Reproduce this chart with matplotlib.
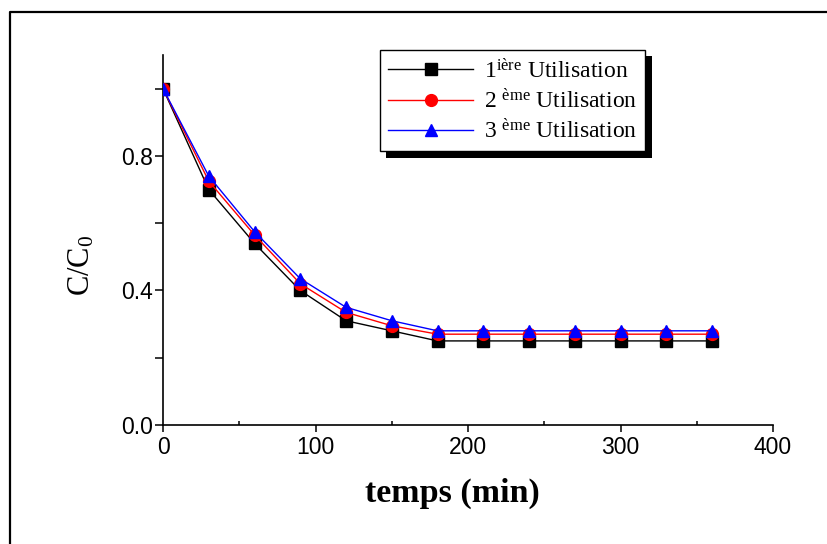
import matplotlib
matplotlib.use("Agg")
import matplotlib.pyplot as plt
from matplotlib.lines import Line2D
from matplotlib import patheffects
from matplotlib.ticker import MultipleLocator, FixedLocator

plt.rcParams['mathtext.fontset'] = 'custom'
plt.rcParams['mathtext.rm'] = 'Liberation Serif'
plt.rcParams['mathtext.it'] = 'Liberation Serif:italic'

# Data
temps = [0, 30, 60, 90, 120, 150, 180, 210, 240, 270, 300, 330, 360]
util_1 = [1.00, 0.70, 0.54, 0.40, 0.31, 0.28, 0.25, 0.25, 0.25, 0.25, 0.25, 0.25, 0.25]
util_2 = [1.00, 0.725, 0.565, 0.42, 0.335, 0.295, 0.27, 0.27, 0.27, 0.27, 0.27, 0.27, 0.27]
util_3 = [1.00, 0.74, 0.575, 0.435, 0.35, 0.31, 0.28, 0.28, 0.28, 0.28, 0.28, 0.28, 0.28]
labels = [r'1$^{\mathrm{ière}}$ Utilisation',
          r'2 $^{\mathrm{ème}}$ Utilisation',
          r'3 $^{\mathrm{ème}}$ Utilisation']

W, H = 827, 544
fig = plt.figure(figsize=(W / 100, H / 100), dpi=100)
ax = fig.add_axes([163 / W, 1 - 425 / H, (773 - 163) / W, (425 - 55) / H])

ax.plot(temps, util_1, color='black', marker='s', markersize=8, lw=1, label=labels[0], zorder=3)
ax.plot(temps, util_2, color='red', marker='o', markersize=8.5, lw=1, label=labels[1], zorder=4)
ax.plot(temps, util_3, color='blue', marker='^', markersize=9, lw=1, label=labels[2], zorder=5)

ax.set_xlim(0, 400)
ax.set_ylim(0, 1.1)
for s in ('top', 'right'):
    ax.spines[s].set_visible(False)
for s in ('left', 'bottom'):
    ax.spines[s].set_linewidth(1.2)

ax.xaxis.set_major_locator(MultipleLocator(100))
ax.xaxis.set_minor_locator(MultipleLocator(50))
ax.yaxis.set_major_locator(FixedLocator([0.0, 0.4, 0.8]))
ax.yaxis.set_minor_locator(FixedLocator([0.2, 0.6, 1.0]))
ax.set_yticklabels(['0.0', '0.4', '0.8'])

tick_font = ['Liberation Sans Narrow', 'Liberation Sans']
ax.tick_params(axis='x', which='major', direction='out', length=5, width=1.1, pad=3)
ax.tick_params(axis='x', which='minor', direction='in', length=3, width=1.1)
ax.tick_params(axis='y', which='both', direction='out', length=6, width=1.1, pad=1)
for lab in ax.get_xticklabels() + ax.get_yticklabels():
    lab.set_family(tick_font)
    lab.set_fontsize(16.5)

ax.set_xlabel('temps (min)', family='Liberation Serif', fontweight='bold', fontsize=24.5)
ax.xaxis.set_label_coords((452 - 163) / 610, -(478 - 425) / 370)
ax.set_ylabel(r'C/C$_{\mathrm{0}}$', family='Liberation Serif', fontsize=22)
ax.yaxis.set_label_coords((97 - 163) / 610, (425 - 265) / 370)

leg = ax.legend(loc='upper left', bbox_to_anchor=(380 / W, 1 - 50 / H),
                bbox_transform=fig.transFigure, borderaxespad=0,
                prop={'family': 'Liberation Serif', 'size': 17},
                handlelength=3.6, handletextpad=0.45, labelspacing=0.24,
                borderpad=0.35, fancybox=False, framealpha=1, edgecolor='black')
leg.get_frame().set_linewidth(1.0)
leg.get_frame().set_path_effects([
    patheffects.SimplePatchShadow(offset=(4.5, -4.5), shadow_rgbFace='black', alpha=1),
    patheffects.Normal()])

# Outer frame (left and top edges)
fig.add_artist(Line2D([10 / W, 10 / W, 1.0], [0.0, 1 - 12 / H, 1 - 12 / H],
                      transform=fig.transFigure, color='black', lw=1.6))

fig.savefig('out.png', dpi=100)
